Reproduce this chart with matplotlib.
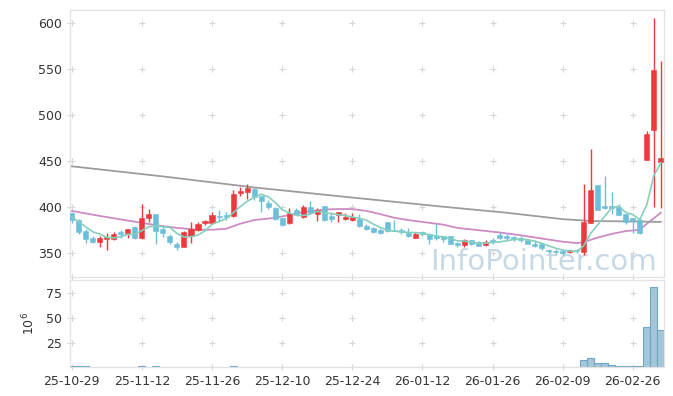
import numpy as np
import pandas as pd
import matplotlib
matplotlib.use("Agg")
import matplotlib.pyplot as plt
from matplotlib import font_manager

# daily OHLC (one entry per trading day)
opens = [393.5, 386.6, 374.0, 367.0, 362.0, 365.0, 365.0, 373.2, 370.7, 378.0,
         367.0, 388.0, 392.4, 376.5, 368.5, 360.5, 357.0, 368.5, 375.0, 382.3,
         383.0, 390.2, 391.3, 390.2, 415.6, 416.3, 420.0, 412.0, 404.7, 399.0,
         388.0, 382.3, 397.5, 389.5, 399.7, 392.4, 401.0, 390.0, 391.0, 387.3,
         386.6, 387.3, 380.0, 377.2, 375.0, 383.7, 375.0, 375.0, 372.1, 367.0,
         372.8, 370.7, 368.5, 368.5, 368.5, 361.2, 359.0, 364.1, 362.0, 359.0,
         364.1, 370.0, 369.2, 367.8, 367.0, 364.8, 359.8, 360.5, 353.3, 352.6,
         351.9, 351.1, 354.0, 351.0, 383.3, 424.0, 401.4, 401.0, 400.3, 392.4,
         388.0, 386.6, 451.8, 484.4, 449.6]
closes = [386.6, 373.2, 365.3, 362.0, 367.0, 368.0, 371.4, 370.7, 375.8, 366.3,
          388.8, 392.4, 374.3, 372.1, 362.3, 356.2, 372.8, 375.8, 381.5, 385.2,
          391.3, 389.5, 389.5, 414.1, 417.8, 420.7, 411.2, 407.0, 400.4, 387.3,
          381.0, 393.9, 392.4, 400.4, 393.9, 397.5, 386.0, 387.3, 394.6, 389.5,
          389.5, 379.3, 376.5, 372.8, 372.0, 374.3, 374.3, 372.8, 369.2, 371.4,
          370.7, 365.6, 366.3, 365.6, 360.5, 359.0, 364.1, 360.5, 358.3, 362.7,
          362.7, 367.0, 366.3, 365.6, 364.1, 360.5, 358.3, 355.5, 351.9, 351.1,
          350.4, 353.3, 351.9, 383.7, 418.5, 397.4, 399.3, 398.6, 391.7, 384.4,
          385.9, 372.0, 480.0, 549.6, 453.2]
highs = [395.0, 387.5, 375.8, 369.0, 368.5, 372.0, 372.5, 375.0, 376.5, 379.4,
         403.0, 398.0, 392.4, 380.0, 370.7, 362.7, 374.3, 384.4, 383.7, 385.9,
         394.6, 396.8, 394.6, 419.0, 422.2, 425.7, 420.7, 412.5, 407.6, 399.7,
         388.8, 398.9, 398.9, 402.5, 406.9, 398.9, 401.8, 394.6, 395.3, 393.9,
         393.9, 392.4, 381.5, 378.6, 377.2, 384.4, 386.6, 377.9, 377.9, 372.8,
         374.3, 372.1, 381.5, 369.2, 369.2, 362.0, 365.6, 364.8, 363.4, 364.1,
         366.3, 372.8, 370.7, 369.2, 368.5, 365.6, 364.1, 361.5, 354.0, 354.8,
         354.0, 354.0, 354.8, 425.7, 463.5, 424.0, 434.0, 416.7, 404.0, 392.4,
         388.8, 388.0, 483.0, 605.4, 559.0]
lows = [383.0, 371.4, 361.3, 361.0, 357.0, 354.0, 364.0, 367.0, 367.0, 365.6,
        365.0, 384.0, 360.0, 368.0, 360.5, 354.0, 356.2, 361.0, 373.6, 380.8,
        381.5, 383.7, 386.6, 389.5, 412.0, 408.4, 407.6, 395.0, 398.2, 385.9,
        380.0, 381.5, 391.0, 388.0, 392.4, 385.2, 385.2, 384.4, 383.7, 385.9,
        385.2, 378.6, 375.0, 372.1, 371.4, 372.8, 373.6, 371.4, 367.8, 366.3,
        369.2, 360.5, 364.8, 362.0, 359.8, 356.9, 356.9, 359.1, 357.6, 358.3,
        360.5, 365.6, 364.1, 363.4, 362.7, 359.8, 356.9, 354.0, 349.7, 349.0,
        348.2, 349.7, 350.4, 348.5, 383.0, 396.8, 398.2, 392.4, 391.0, 382.2,
        372.0, 371.4, 451.8, 400.3, 399.6]
# volume in millions
volume = [1.0, 1.2, 1.0, 0.3, 0.3, 0.3, 0.3, 0.3, 0.3, 0.3,
          1.0, 0.3, 1.0, 0.3, 0.3, 0.3, 0.3, 0.3, 0.3, 0.3,
          0.3, 0.3, 0.3, 1.0, 0.3, 0.3, 0.3, 0.3, 0.3, 0.3,
          0.3, 0.3, 0.3, 0.3, 0.3, 0.3, 0.3, 0.3, 0.3, 0.3,
          0.3, 0.3, 0.3, 0.3, 0.3, 0.3, 0.3, 0.3, 0.3, 0.3,
          0.3, 0.3, 0.3, 0.3, 0.3, 0.3, 0.3, 0.3, 0.3, 0.3,
          0.3, 0.3, 0.3, 0.3, 0.3, 0.3, 0.3, 0.3, 0.3, 0.3,
          0.3, 0.3, 0.3, 8.0, 10.0, 4.0, 4.0, 2.0, 1.0, 1.0,
          1.0, 1.0, 41.0, 81.0, 38.0]

# first MA5 values (need closes from before the window)
ma5_head = [389.5, 384.0, 378.6, 373.2]
# MA20 and long MA, sampled off the chart
ma20_idx = [0, 4, 8, 12, 15, 18, 20, 22, 24, 26, 29, 31, 33, 36, 38, 40, 42, 44,
            46, 48, 50, 53, 55, 58, 61, 64, 67, 70, 72, 73, 75, 77, 79, 81, 82, 83, 84]
ma20_val = [396.0, 390.5, 385.5, 380.5, 377.5, 375.5, 375.5, 376.5, 382.0, 386.0,
            388.5, 391.5, 394.5, 397.5, 398.0, 398.0, 396.0, 392.5, 388.5, 386.0,
            384.0, 381.0, 377.5, 375.0, 372.5, 369.5, 366.0, 362.5, 361.0, 362.0,
            367.0, 371.0, 374.0, 375.5, 382.0, 388.0, 394.0]
malong_idx = [0, 13, 26, 40, 53, 62, 70, 74, 80, 84]
malong_val = [444.5, 433.5, 421.5, 410.5, 400.5, 394.0, 387.0, 385.0, 384.5, 384.0]

tick_pos = [0, 10, 20, 30, 40, 50, 60, 70, 80]
tick_labels = ["25-10-29", "25-11-12", "25-11-26", "25-12-10", "25-12-24",
               "26-01-12", "26-01-26", "26-02-09", "26-02-26"]
price_ticks = [350, 400, 450, 500, 550, 600]
vol_ticks = [25, 50, 75]

RED = "#ec3a3c"
BLUE = "#6bbfd9"
GRID = "#d6d6d6"
SPINE = "#e2e2e2"

df = pd.DataFrame({"o": opens, "h": highs, "l": lows, "c": closes, "v": volume})
x = np.arange(len(df))
up = df["c"] >= df["o"]
cols = np.where(up, RED, BLUE)
ma5 = df["c"].rolling(5).mean().to_numpy()
ma5[:4] = ma5_head

fig = plt.figure(figsize=(6.73, 3.96), dpi=100)
ax = fig.add_axes([0.1033, 0.3003, 0.8826, 0.6744])
axv = fig.add_axes([0.1033, 0.0720, 0.8826, 0.2205])

# watermark: narrow font if we have one
names = {f.name for f in font_manager.fontManager.ttflist}
if "Liberation Sans Narrow" in names:
    wm_font, wm_size = "Liberation Sans Narrow", 27
else:
    wm_font, wm_size = "DejaVu Sans", 21
ax.text(0.989, 0.028, "InfoPointer.com", transform=ax.transAxes, ha="right",
        va="baseline", fontsize=wm_size, family=wm_font, color="#c6d9e5", zorder=0)

# grid crosses
gx, gy = np.meshgrid(tick_pos, price_ticks)
ax.scatter(gx.ravel(), gy.ravel(), marker="+", s=14, color=GRID, linewidths=0.8, zorder=0)
gx, gy = np.meshgrid(tick_pos, vol_ticks)
axv.scatter(gx.ravel(), gy.ravel(), marker="+", s=14, color=GRID, linewidths=0.8, zorder=0)

# candles
body = (df["c"] - df["o"]).abs().clip(lower=0.8)
bottom = np.minimum(df["o"], df["c"])
ax.vlines(x, df["l"], df["h"], colors=cols, lw=1.0, zorder=2)
ax.bar(x, body, bottom=bottom, width=0.72, color=cols, edgecolor=cols, lw=0.4, zorder=3)

# moving averages
ax.plot(x, ma5, color="#86cfbf", lw=1.2, zorder=4)
ax.plot(ma20_idx, ma20_val, color="#cc8cc3", lw=1.3, zorder=1.5)
ax.plot(malong_idx, malong_val, color="#9c9c9c", lw=1.3, zorder=1.5)

# volume
axv.bar(x, df["v"], width=1.0, color="#a3c6d8", edgecolor="#6ea6c3", lw=0.8, zorder=2)

for a in (ax, axv):
    a.set_xlim(-0.32, 84.38)
    a.set_xticks(tick_pos)
    for s in a.spines.values():
        s.set_color(SPINE)
        s.set_linewidth(0.9)
    a.tick_params(direction="inout", length=5, width=0.8, color=GRID,
                  labelsize=9, labelcolor="#333333", pad=3)

ax.set_ylim(324, 614.5)
ax.set_yticks(price_ticks)
ax.tick_params(axis="x", labelbottom=False)

axv.set_ylim(0, 87.5)
axv.set_yticks(vol_ticks)
axv.set_xticklabels(tick_labels)
axv.set_ylabel("10$^6$", fontsize=9, color="#333333", labelpad=6)

fig.savefig("out.png", dpi=100)
